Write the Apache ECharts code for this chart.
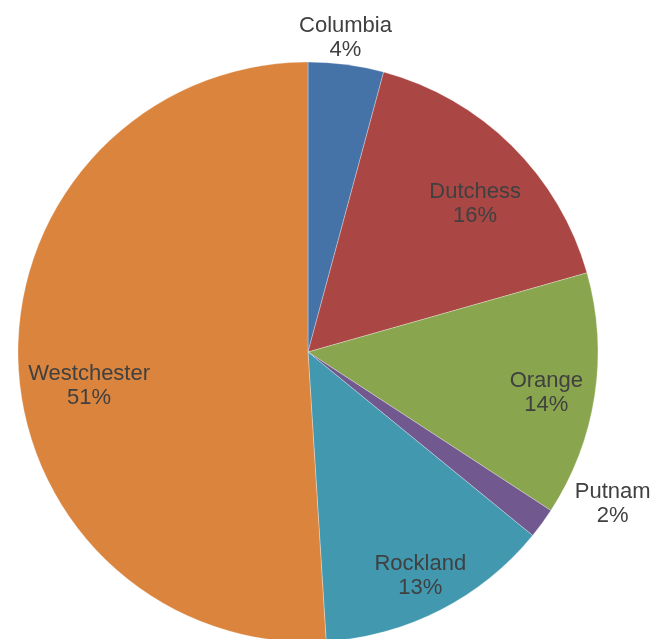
<!DOCTYPE html>
<html>
<head>
<meta charset="utf-8">
<script src="https://cdn.jsdelivr.net/npm/echarts@6/dist/echarts.min.js"></script>
<style>html,body{margin:0;padding:0;background:#fff}#c{width:652px;height:639px}</style>
</head>
<body>
<div id="c"></div>
<script>
const categories = ['Columbia', 'Dutchess', 'Orange', 'Putnam', 'Rockland', 'Westchester'];
const values = [4.2, 16.4, 13.6, 1.7, 13.1, 51.0];
const colors = ['#4572A7', '#AA4643', '#89A54E', '#71588F', '#4198AF', '#DB843D'];
const outsideLabels = ['Columbia', 'Putnam'];

const chart = echarts.init(document.getElementById('c'), null, {renderer: 'canvas'});
const center = [308, 352];
const R = 290;
const fmt = p => p.name + '\n' + Math.round(p.percent) + '%';
const labelStyle = {
  color: '#404040',
  fontFamily: 'Liberation Sans, Arial, sans-serif',
  fontSize: 22,
  lineHeight: 24,
  formatter: fmt
};
// best-fit label nudges (label placement only, in px)
const labelNudge = {
  Columbia: [-5, 6], Dutchess: [2, 19], Orange: [6, 6],
  Putnam: [44, -39], Rockland: [5, 15], Westchester: [16, 27]
};
const nudge = p => {
  const n = labelNudge[categories[p.dataIndex]] || [0, 0];
  return {dx: n[0], dy: n[1]};
};

const mainData = categories.map((c, i) => ({name: c, value: values[i], itemStyle: {color: colors[i]}}));
const innerData = categories.map((c, i) => ({
  name: c, value: values[i],
  label: {show: outsideLabels.indexOf(c) < 0}
}));
const outerData = categories.map((c, i) => ({
  name: c, value: values[i],
  label: {show: outsideLabels.indexOf(c) >= 0}
}));

chart.setOption({
  animation: false,
  backgroundColor: '#fff',
  series: [
    {
      type: 'pie', center: center, radius: [0, R], startAngle: 90, clockwise: true,
      data: mainData, label: {show: false}, labelLine: {show: false},
      itemStyle: {borderColor: 'rgba(255,255,255,0.5)', borderWidth: 0.6},
      emphasis: {disabled: true}
    },
    {
      type: 'pie', center: center, radius: [174, R], startAngle: 90, clockwise: true, silent: true,
      data: innerData, itemStyle: {color: 'transparent'},
      label: Object.assign({position: 'inside'}, labelStyle), labelLine: {show: false},
      labelLayout: nudge,
      emphasis: {disabled: true}
    },
    {
      type: 'pie', center: center, radius: [R, 350], startAngle: 90, clockwise: true, silent: true,
      data: outerData, itemStyle: {color: 'transparent'},
      label: Object.assign({position: 'inside'}, labelStyle), labelLine: {show: false},
      labelLayout: nudge,
      emphasis: {disabled: true}
    }
  ]
});
</script>
</body>
</html>
